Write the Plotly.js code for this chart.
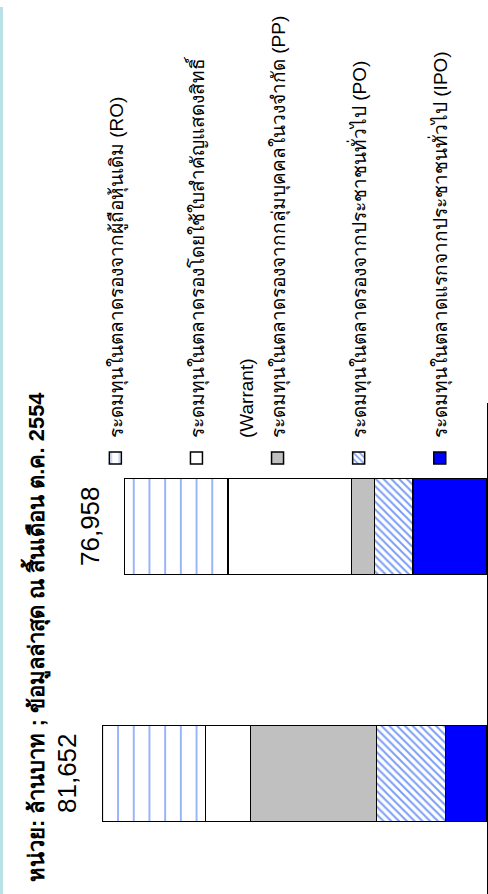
<!DOCTYPE html>
<html><head><meta charset="utf-8">
<script src="https://cdn.plot.ly/plotly-3.0.1.min.js"></script>
<style>
html,body{margin:0;padding:0;width:488px;height:894px;overflow:hidden;background:#fff;}
#rot{position:absolute;left:0;top:0;width:894px;height:488px;transform-origin:0 0;transform:translateY(894px) rotate(-90deg);overflow:hidden;background:#fff;}
#stripe{position:absolute;left:0;top:0;width:887px;height:3px;background:#b9dfe7;}
#chart{position:absolute;left:-3px;top:0;width:897px;height:488px;}
</style></head><body>
<div id="rot"><div id="chart"></div><div id="stripe"></div></div>
<script>
// Data (stack order from the baseline upward)
const categories = ['ปี 2553', 'ปี 2554'];
const ipo     = [8830, 15710];
const po      = [14650, 8195];
const pp      = [26750, 4820];
const warrant = [9550, 26260];
const ro      = [21872, 21973];
const totals  = [81652, 76958];
const titleText = 'หน่วย: ล้านบาท ; ข้อมูลล่าสุด ณ สิ้นเดือน ต.ค. 2554';
const nameIPO = ['ระดมทุนในตลาดแรกจากประชาชนทั่วไป (IPO)'];
const namePO  = ['ระดมทุนในตลาดรองจากประชาชนทั่วไป (PO)'];
const namePP  = ['ระดมทุนในตลาดรองจากกลุ่มบุคคลในวงจำกัด (PP)'];
const nameW   = ['ระดมทุนในตลาดรองโดยใช้ใบสำคัญแสดงสิทธิ์', '(Warrant)'];
const nameRO  = ['ระดมทุนในตลาดรองจากผู้ถือหุ้นเดิม (RO)'];

function label(lines) {
  // three-row legend slot: first line, spacer, optional second line
  return lines[0] + '<br>\u00a0<br>' + (lines[1] || '\u00a0');
}
const edge = {color: '#000000', width: 1.5};
function bar(lines, vals, color, pattern, grp, rank) {
  const m = {color: color, line: edge};
  if (pattern) m.pattern = pattern;
  return {type: 'bar', x: categories, y: vals, name: label(lines), legendgroup: grp,
          legendrank: rank, width: 0.39, marker: m, hoverinfo: 'none'};
}
const data = [
  bar(nameIPO, ipo, '#0000ff', null, 'g1', 5),
  bar(namePO, po, '#ffffff', {shape: '/', fgcolor: '#7a9df5', bgcolor: '#ffffff', size: 5.5, solidity: 0.35}, 'g2', 4),
  bar(namePP, pp, '#c0c0c0', null, 'g3', 3),
  bar(nameW, warrant, '#ffffff', null, 'g4', 2),
  bar(nameRO, ro, '#ffffff', {shape: '-', fgcolor: '#7fa2f7', bgcolor: '#ffffff', size: 15.7, solidity: 0.12, fgopacity: 0.85}, 'g5', 1)
];
const annotations = categories.map((c, i) => ({
  x: i, y: totals[i], text: totals[i].toLocaleString('en-US'), showarrow: false,
  yanchor: 'bottom', yshift: 18, font: {size: 26, color: '#000'}
}));
const layout = {
  width: 897, height: 488,
  margin: {l: 0, r: 403, t: 16, b: 1, autoexpand: false},
  barmode: 'stack',
  paper_bgcolor: 'rgba(0,0,0,0)', plot_bgcolor: 'rgba(0,0,0,0)',
  font: {family: 'Liberation Sans, Arial, sans-serif', color: '#000'},
  title: {text: '<b>' + titleText + '</b>', font: {size: 22, color: '#000'},
          xref: 'container', x: 15 / 897, xanchor: 'left',
          yref: 'container', y: 1 - 36 / 488, yanchor: 'middle'},
  xaxis: {type: 'category', range: [-0.5, 1.5], showline: true, linecolor: '#000', linewidth: 1,
          showticklabels: false, ticks: '', showgrid: false, zeroline: false},
  yaxis: {range: [0, 100000], visible: false, showgrid: false, zeroline: false},
  legend: {x: 419 / 494, xanchor: 'left', y: (487 - 96.5) / 471, yanchor: 'top',
           valign: 'top', traceorder: 'grouped', tracegroupgap: 4,
           font: {size: 19, color: '#000'}, bgcolor: 'rgba(0,0,0,0)'},
  annotations: annotations,
  showlegend: true
};
Plotly.newPlot('chart', data, layout, {displayModeBar: false, staticPlot: true});
</script>
</body></html>
